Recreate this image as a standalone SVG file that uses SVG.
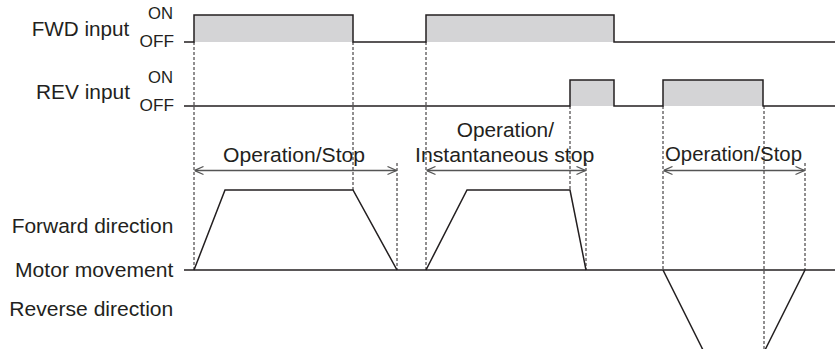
<svg xmlns="http://www.w3.org/2000/svg" width="835" height="349" viewBox="0 0 835 349">
<style>
text{font-family:"Liberation Sans",Arial,sans-serif;fill:#231f20;}
.lbl{font-size:20.5px;}
.lvl{font-size:17px;}
.sig{fill:none;stroke:#231f20;stroke-width:1.5;}
.pulse{fill:#d4d4d6;stroke:none;}
.guide{fill:none;stroke:#231f20;stroke-width:1;stroke-dasharray:3 2;}
.dim{fill:none;stroke:#555;stroke-width:1.3;marker-start:url(#arr);marker-end:url(#arr);}
</style>
<defs>
<marker id="arr" viewBox="0 0 10 10" refX="10" refY="5" markerWidth="10" markerHeight="10" markerUnits="userSpaceOnUse" orient="auto-start-reverse">
<path d="M1,1 L10,5 L1,9" fill="none" stroke="#555" stroke-width="1.2"/>
</marker>
</defs>
<rect width="835" height="349" fill="#fff"/>

<g id="labels">
<text class="lbl" x="31.7" y="35.5" textLength="97.6" lengthAdjust="spacingAndGlyphs">FWD input</text>
<text class="lvl" x="148" y="19" textLength="25" lengthAdjust="spacingAndGlyphs">ON</text>
<text class="lvl" x="139.5" y="46.5" textLength="34.5" lengthAdjust="spacingAndGlyphs">OFF</text>
<text class="lbl" x="36" y="98.5" textLength="94" lengthAdjust="spacingAndGlyphs">REV input</text>
<text class="lvl" x="148" y="83" textLength="25" lengthAdjust="spacingAndGlyphs">ON</text>
<text class="lvl" x="139.5" y="110.5" textLength="34.5" lengthAdjust="spacingAndGlyphs">OFF</text>
<text class="lbl" x="11.7" y="233" textLength="161.6" lengthAdjust="spacingAndGlyphs">Forward direction</text>
<text class="lbl" x="15" y="276.5" textLength="158.3" lengthAdjust="spacingAndGlyphs">Motor movement</text>
<text class="lbl" x="9.3" y="316" textLength="164" lengthAdjust="spacingAndGlyphs">Reverse direction</text>
</g>

<g id="fwd-signal">
<rect class="pulse" x="194" y="15" width="159" height="27"/>
<rect class="pulse" x="426" y="15" width="188" height="27"/>
<path class="sig" d="M184,42 H194 V15 H353 V42 H426 V15 H614 V42 H835"/>
</g>

<g id="rev-signal">
<rect class="pulse" x="570" y="80" width="44" height="26"/>
<rect class="pulse" x="663" y="80" width="100" height="26"/>
<path class="sig" d="M184,106 H570 V80 H614 V106 H663 V80 H763 V106 H835"/>
</g>

<g id="motor-movement">
<path class="sig" d="M184,270 H835"/>
<path class="sig" d="M194,270 L225,190 H353 L397,270"/>
<path class="sig" d="M426,270 L467,190 H570 L586,270"/>
<path class="sig" d="M663,270 L704,352"/>
<path class="sig" d="M805,270 L764,352"/>
</g>

<g id="connectors">
<path class="guide" d="M194,42 V270"/>
<path class="guide" d="M353,42 V190"/>
<path class="guide" d="M397,163 V270"/>
<path class="guide" d="M426,42 V270"/>
<path class="guide" d="M570,106 V190"/>
<path class="guide" d="M586,163 V270"/>
<path class="guide" d="M663,106 V270"/>
<path class="guide" d="M764,106 V349"/>
<path class="guide" d="M805,163 V270"/>
<path class="dim" d="M194.5,170.5 H396.5"/>
<path class="dim" d="M426.5,170.5 H585.5"/>
<path class="dim" d="M663.5,170.5 H804.5"/>
</g>

<g id="dimension-labels">
<text class="lbl" x="223" y="161.5" textLength="142" lengthAdjust="spacingAndGlyphs">Operation/Stop</text>
<text class="lbl" x="456.7" y="136.5" textLength="97.3" lengthAdjust="spacingAndGlyphs">Operation/</text>
<text class="lbl" x="415" y="161.5" textLength="179.3" lengthAdjust="spacingAndGlyphs">Instantaneous stop</text>
<text class="lbl" x="665" y="160.5" textLength="137" lengthAdjust="spacingAndGlyphs">Operation/Stop</text>
</g>
</svg>
